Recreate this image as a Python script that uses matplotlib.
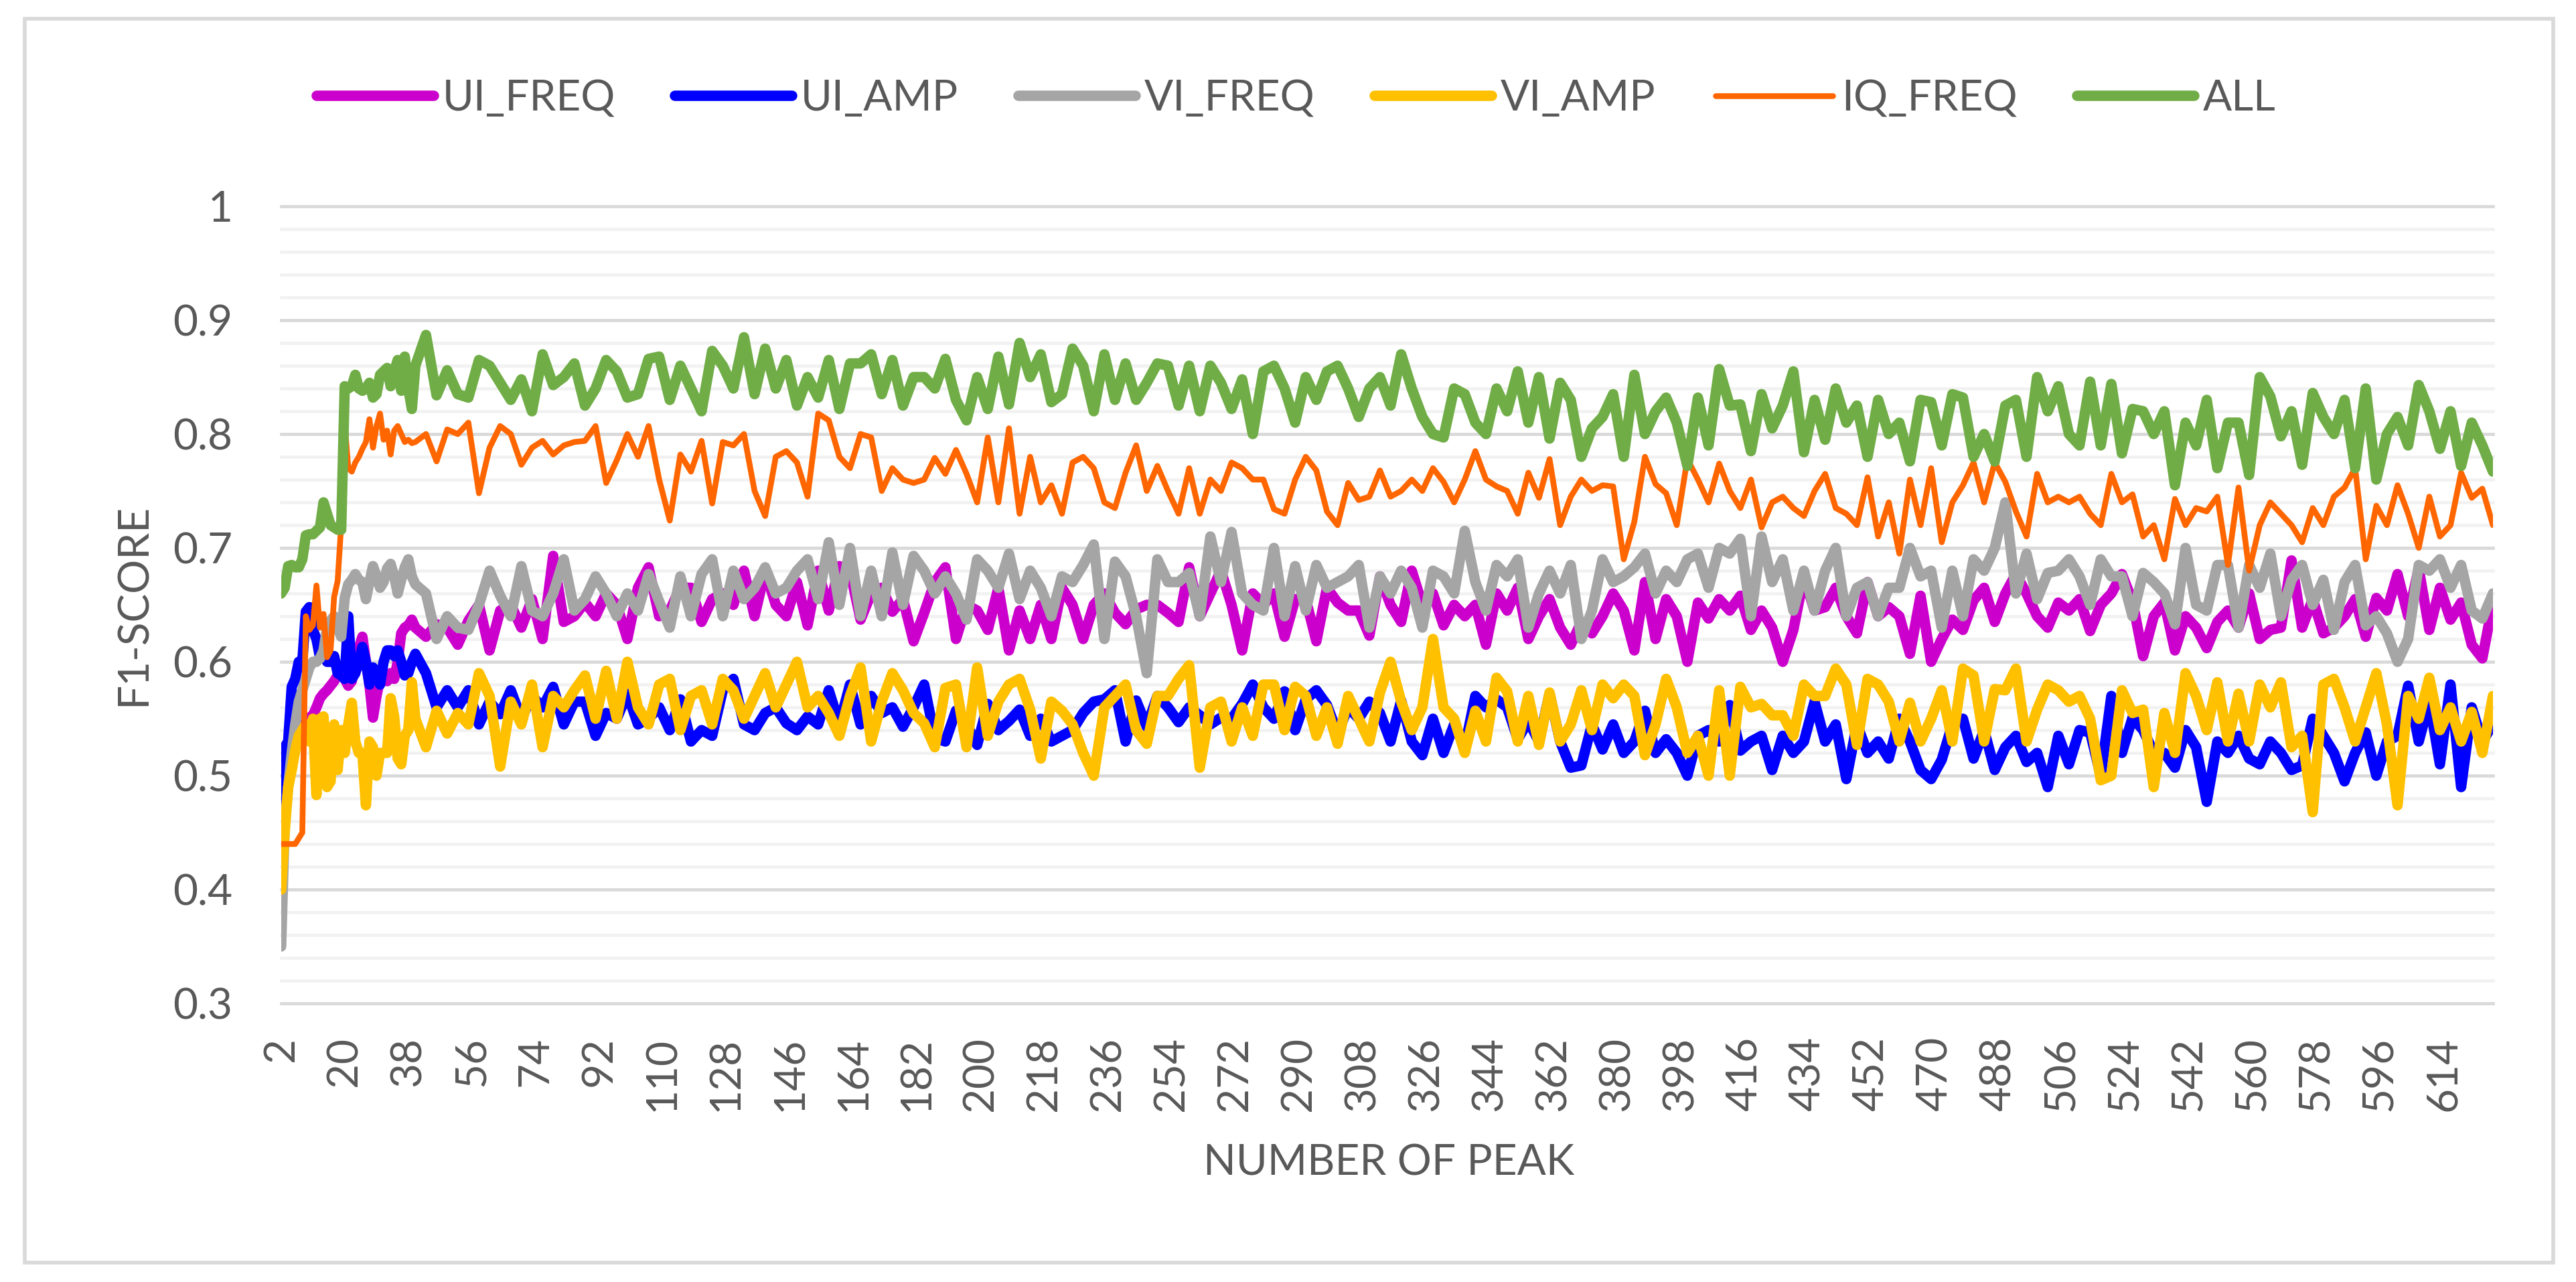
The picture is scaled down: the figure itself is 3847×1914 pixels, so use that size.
import numpy as np
import matplotlib
matplotlib.use("Agg")
import matplotlib.pyplot as plt
from matplotlib.patches import Rectangle

plt.rcParams['font.family'] = ['Lato', 'DejaVu Sans']

# categories: every peak up to 40, then every third one
peaks = list(range(2, 41)) + list(range(43, 629, 3))

ui_freq = [0.477, 0.485, 0.50, 0.51, 0.525, 0.54, 0.545, 0.548, 0.551, 0.553,
           0.56, 0.568, 0.572, 0.575, 0.579, 0.583, 0.588, 0.59, 0.585, 0.579,
           0.583, 0.60, 0.612, 0.622, 0.60, 0.58, 0.551, 0.57, 0.585, 0.59,
           0.583, 0.59, 0.585, 0.60, 0.625, 0.63, 0.632, 0.637, 0.63,
           0.622, 0.633, 0.63, 0.615, 0.636, 0.65, 0.61, 0.645, 0.65, 0.63,
           0.655, 0.62, 0.693, 0.635, 0.64, 0.652, 0.64, 0.66, 0.65, 0.62,
           0.665, 0.683, 0.64, 0.645, 0.665, 0.665, 0.635, 0.655, 0.66,
           0.65, 0.68, 0.64, 0.68, 0.65, 0.64, 0.67, 0.632, 0.68, 0.645,
           0.684, 0.68, 0.637, 0.66, 0.665, 0.644, 0.655, 0.618, 0.643, 0.67,
           0.683, 0.62, 0.65, 0.645, 0.628, 0.665, 0.61, 0.645, 0.62, 0.65,
           0.62, 0.665, 0.65, 0.62, 0.65, 0.66, 0.643, 0.633, 0.646, 0.65,
           0.65,
           0.643, 0.635, 0.683, 0.64, 0.66, 0.68, 0.65, 0.61, 0.66, 0.65,
           0.66, 0.622, 0.655, 0.655, 0.618, 0.665, 0.652, 0.645, 0.645, 0.623,
           0.675, 0.65, 0.635, 0.68, 0.65, 0.66, 0.632, 0.65, 0.64, 0.65,
           0.615, 0.66, 0.645, 0.665, 0.62, 0.64, 0.655, 0.63, 0.615, 0.635,
           0.625, 0.64,
           0.66, 0.645, 0.61, 0.67, 0.62, 0.655, 0.64, 0.60, 0.652, 0.638,
           0.655, 0.645, 0.658, 0.628, 0.645, 0.63, 0.60, 0.628, 0.675, 0.645,
           0.648, 0.665, 0.64, 0.625, 0.67, 0.64, 0.648, 0.64, 0.607, 0.658,
           0.60, 0.62, 0.637, 0.628, 0.654, 0.665, 0.635, 0.66, 0.677, 0.66,
           0.64, 0.63,
           0.652, 0.645, 0.655, 0.627, 0.65, 0.66, 0.677, 0.653, 0.605, 0.64,
           0.652, 0.61, 0.64, 0.63, 0.612, 0.635, 0.645, 0.63, 0.66, 0.62,
           0.628, 0.63, 0.689, 0.63, 0.655, 0.625, 0.63, 0.64, 0.655, 0.622,
           0.656, 0.645, 0.677, 0.64, 0.682, 0.628, 0.665, 0.637, 0.652, 0.615,
           0.603, 0.652]

ui_amp = [0.48, 0.525, 0.53, 0.578, 0.585, 0.60, 0.60, 0.644, 0.648, 0.628,
          0.62, 0.604, 0.61, 0.60, 0.60, 0.605, 0.59, 0.588, 0.585, 0.64,
          0.585, 0.59, 0.60, 0.613, 0.60, 0.58, 0.595, 0.59, 0.58, 0.60,
          0.61, 0.61, 0.605, 0.61, 0.60, 0.588, 0.59, 0.60, 0.607,
          0.59, 0.56, 0.575, 0.56, 0.575, 0.545, 0.565, 0.554, 0.575, 0.55,
          0.57, 0.56, 0.578, 0.545, 0.565, 0.565, 0.535, 0.555, 0.55, 0.572,
          0.545, 0.55, 0.56, 0.54, 0.567, 0.53, 0.54, 0.535, 0.575,
          0.585, 0.545, 0.54, 0.555, 0.56, 0.546, 0.54, 0.552, 0.545, 0.575,
          0.545, 0.58, 0.545, 0.57, 0.555, 0.56, 0.543, 0.56, 0.58, 0.533,
          0.53, 0.557, 0.545, 0.527, 0.563, 0.54, 0.548, 0.558, 0.535, 0.55,
          0.53, 0.535, 0.54, 0.555, 0.565, 0.567, 0.575, 0.53, 0.566, 0.543,
          0.57,
          0.56, 0.547, 0.56, 0.553, 0.545, 0.551, 0.55, 0.563, 0.58, 0.56,
          0.55, 0.574, 0.54, 0.567, 0.575, 0.562, 0.537, 0.56, 0.55, 0.565,
          0.555, 0.53, 0.566, 0.53, 0.518, 0.55, 0.52, 0.545, 0.525, 0.57,
          0.56, 0.567, 0.56, 0.532, 0.548, 0.53, 0.572, 0.53, 0.507, 0.509,
          0.545, 0.523,
          0.545, 0.52, 0.53, 0.557, 0.52, 0.532, 0.52, 0.50, 0.535, 0.54,
          0.53, 0.562, 0.522, 0.53, 0.535, 0.505, 0.535, 0.52, 0.53, 0.565,
          0.53, 0.545, 0.497, 0.545, 0.52, 0.53, 0.515, 0.55, 0.53, 0.505,
          0.497, 0.514, 0.545, 0.55, 0.515, 0.54, 0.505, 0.525, 0.535, 0.512,
          0.52, 0.49,
          0.535, 0.51, 0.54, 0.538, 0.50, 0.57, 0.52, 0.551, 0.54, 0.52,
          0.52, 0.507, 0.54, 0.525, 0.477, 0.53, 0.52, 0.535, 0.515, 0.51,
          0.53, 0.52, 0.505, 0.509, 0.55, 0.535, 0.52, 0.495, 0.52, 0.538,
          0.50, 0.53, 0.535, 0.579, 0.53, 0.565, 0.51, 0.58, 0.49, 0.56,
          0.53, 0.545]

vi_freq = [0.35, 0.455, 0.49, 0.52, 0.545, 0.565, 0.575, 0.585, 0.595, 0.60,
           0.60, 0.603, 0.61, 0.63, 0.636, 0.64, 0.63, 0.622, 0.656, 0.668,
           0.672, 0.677, 0.672, 0.67, 0.655, 0.67, 0.684, 0.675, 0.665, 0.67,
           0.682, 0.686, 0.675, 0.66, 0.672, 0.683, 0.69, 0.675, 0.668,
           0.66, 0.62, 0.64, 0.63, 0.628, 0.65, 0.68, 0.658, 0.64, 0.684,
           0.645, 0.64, 0.66, 0.69, 0.645, 0.655, 0.675, 0.66, 0.64, 0.66,
           0.645, 0.677, 0.653, 0.63, 0.675, 0.64, 0.677, 0.69, 0.64,
           0.68, 0.655, 0.665, 0.683, 0.66, 0.665, 0.68, 0.69, 0.655, 0.705,
           0.65, 0.70, 0.64, 0.68, 0.64, 0.696, 0.65, 0.693, 0.68, 0.66,
           0.675, 0.66, 0.637, 0.69, 0.68, 0.665, 0.695, 0.655, 0.68, 0.665,
           0.64, 0.675, 0.67, 0.685, 0.703, 0.62, 0.688, 0.675, 0.64, 0.59,
           0.69,
           0.67, 0.67, 0.678, 0.64, 0.71, 0.67, 0.714, 0.66, 0.65, 0.645,
           0.70, 0.64, 0.684, 0.645, 0.685, 0.665, 0.67, 0.675, 0.685, 0.63,
           0.675, 0.66, 0.68, 0.665, 0.63, 0.68, 0.675, 0.66, 0.715, 0.67,
           0.645, 0.685, 0.675, 0.69, 0.63, 0.66, 0.68, 0.66, 0.685, 0.62,
           0.645, 0.69,
           0.67, 0.675, 0.683, 0.695, 0.66, 0.68, 0.67, 0.69, 0.695, 0.665,
           0.70, 0.695, 0.708, 0.64, 0.71, 0.67, 0.69, 0.645, 0.68, 0.645,
           0.68, 0.70, 0.64, 0.665, 0.67, 0.64, 0.665, 0.665, 0.70, 0.675,
           0.68, 0.63, 0.68, 0.64, 0.69, 0.68, 0.70, 0.74, 0.66, 0.695,
           0.655, 0.678,
           0.68, 0.69, 0.675, 0.65, 0.69, 0.675, 0.675, 0.64, 0.678, 0.67,
           0.66, 0.633, 0.70, 0.65, 0.645, 0.685, 0.685, 0.63, 0.685, 0.665,
           0.695, 0.64, 0.672, 0.685, 0.65, 0.672, 0.628, 0.67, 0.685, 0.632,
           0.64, 0.625, 0.60, 0.62, 0.685, 0.68, 0.69, 0.665, 0.685, 0.645,
           0.638, 0.66]

vi_amp = [0.40, 0.45, 0.49, 0.505, 0.522, 0.535, 0.54, 0.545, 0.53, 0.55,
          0.483, 0.55, 0.552, 0.49, 0.495, 0.545, 0.505, 0.54, 0.52, 0.545,
          0.564, 0.53, 0.52, 0.52, 0.474, 0.53, 0.525, 0.50, 0.52, 0.52,
          0.52, 0.568, 0.552, 0.515, 0.51, 0.535, 0.54, 0.582, 0.55,
          0.525, 0.557, 0.537, 0.555, 0.545, 0.59, 0.57, 0.508, 0.565, 0.545,
          0.58, 0.525, 0.57, 0.56, 0.575, 0.588, 0.55, 0.592, 0.55, 0.60,
          0.56, 0.545, 0.58, 0.585, 0.54, 0.57, 0.575, 0.545, 0.585,
          0.575, 0.55, 0.57, 0.59, 0.56, 0.58, 0.60, 0.56, 0.57, 0.555,
          0.535, 0.57, 0.595, 0.53, 0.565, 0.59, 0.575, 0.555, 0.546, 0.525,
          0.577, 0.58, 0.525, 0.595, 0.535, 0.565, 0.58, 0.585, 0.558, 0.515,
          0.565, 0.557, 0.545, 0.52, 0.50, 0.56, 0.57, 0.58, 0.54, 0.528,
          0.57,
          0.57, 0.585, 0.597, 0.507, 0.56, 0.565, 0.53, 0.56, 0.535, 0.58,
          0.58, 0.54, 0.578, 0.57, 0.535, 0.56, 0.528, 0.57, 0.55, 0.53,
          0.573, 0.60, 0.565, 0.54, 0.56, 0.62, 0.56, 0.55, 0.52, 0.557,
          0.53, 0.586, 0.574, 0.53, 0.57, 0.527, 0.573, 0.53, 0.545, 0.575,
          0.54, 0.58,
          0.568, 0.58, 0.57, 0.518, 0.545, 0.585, 0.56, 0.52, 0.535, 0.50,
          0.575, 0.50, 0.578, 0.56, 0.563, 0.553, 0.553, 0.535, 0.58, 0.57,
          0.57, 0.594, 0.58, 0.527, 0.585, 0.58, 0.565, 0.53, 0.564, 0.53,
          0.55, 0.575, 0.53, 0.594, 0.588, 0.53, 0.576, 0.575, 0.594, 0.53,
          0.558, 0.58,
          0.575, 0.565, 0.57, 0.55, 0.496, 0.50, 0.575, 0.555, 0.558, 0.49,
          0.555, 0.52, 0.59, 0.57, 0.54, 0.582, 0.53, 0.572, 0.53, 0.58,
          0.56, 0.582, 0.525, 0.535, 0.468, 0.58, 0.585, 0.56, 0.53, 0.56,
          0.59, 0.545, 0.474, 0.57, 0.55, 0.586, 0.54, 0.56, 0.53, 0.556,
          0.52, 0.57]

iq_freq = [0.44, 0.44, 0.44, 0.44, 0.44, 0.445, 0.45, 0.64, 0.628, 0.632,
           0.667, 0.63, 0.642, 0.604, 0.61, 0.657, 0.671, 0.72, 0.81,
           0.77, 0.767, 0.775, 0.78, 0.787, 0.793, 0.813, 0.788, 0.807, 0.818,
           0.795, 0.803, 0.782, 0.803, 0.807, 0.80, 0.793, 0.795, 0.792, 0.793,
           0.80, 0.776, 0.804, 0.80, 0.81, 0.748, 0.788, 0.807, 0.80, 0.773,
           0.788, 0.794, 0.782, 0.79, 0.793, 0.794, 0.807, 0.757, 0.777, 0.80,
           0.78, 0.807, 0.76, 0.724, 0.782, 0.767, 0.794, 0.739, 0.793,
           0.79, 0.80, 0.75, 0.728, 0.78, 0.785, 0.775, 0.745, 0.818, 0.812,
           0.78, 0.77, 0.80, 0.797, 0.75, 0.77, 0.76, 0.757, 0.76, 0.779,
           0.765, 0.786, 0.765, 0.74, 0.797, 0.74, 0.805, 0.73, 0.78, 0.74,
           0.755, 0.73, 0.775, 0.78, 0.77, 0.74, 0.735, 0.766, 0.79, 0.75,
           0.772,
           0.75, 0.73, 0.77, 0.73, 0.76, 0.75, 0.775, 0.77, 0.76, 0.76,
           0.734, 0.73, 0.76, 0.78, 0.768, 0.732, 0.72, 0.757, 0.742, 0.745,
           0.768, 0.745, 0.75, 0.76, 0.75, 0.77, 0.758, 0.74, 0.76, 0.785,
           0.76, 0.754, 0.75, 0.73, 0.766, 0.744, 0.778, 0.72, 0.745, 0.76,
           0.75, 0.755,
           0.754, 0.69, 0.723, 0.78, 0.756, 0.748, 0.72, 0.778, 0.76, 0.74,
           0.774, 0.75, 0.735, 0.76, 0.718, 0.74, 0.745, 0.735, 0.728, 0.75,
           0.765, 0.735, 0.73, 0.72, 0.762, 0.71, 0.74, 0.695, 0.76, 0.72,
           0.77, 0.705, 0.74, 0.755, 0.775, 0.74, 0.775, 0.758, 0.732, 0.71,
           0.765, 0.74,
           0.745, 0.74, 0.745, 0.73, 0.72, 0.765, 0.74, 0.747, 0.71, 0.72,
           0.69, 0.743, 0.72, 0.735, 0.732, 0.745, 0.685, 0.753, 0.68, 0.72,
           0.74, 0.73, 0.72, 0.705, 0.735, 0.72, 0.745, 0.753, 0.77, 0.69,
           0.737, 0.72, 0.755, 0.73, 0.70, 0.745, 0.71, 0.72, 0.766, 0.744,
           0.752, 0.72]

all_feat = [0.66, 0.665, 0.684, 0.685, 0.683, 0.683, 0.69, 0.711, 0.712, 0.712,
            0.715, 0.718, 0.74, 0.73, 0.72, 0.718, 0.716, 0.716, 0.842,
            0.84, 0.842, 0.852, 0.84, 0.838, 0.84, 0.845, 0.832, 0.835, 0.852,
            0.855, 0.858, 0.842, 0.855, 0.865, 0.838, 0.868, 0.84, 0.822, 0.86,
            0.887, 0.834, 0.856, 0.835, 0.832, 0.865, 0.86, 0.845, 0.83, 0.848,
            0.82, 0.87, 0.843, 0.85, 0.862, 0.825, 0.84, 0.865, 0.855, 0.832,
            0.835, 0.866, 0.868, 0.83, 0.86, 0.84, 0.82, 0.873, 0.86,
            0.84, 0.885, 0.835, 0.875, 0.84, 0.865, 0.825, 0.85, 0.832, 0.865,
            0.822, 0.862, 0.862, 0.87, 0.835, 0.865, 0.825, 0.85, 0.85, 0.84,
            0.866, 0.83, 0.812, 0.85, 0.822, 0.868, 0.826, 0.88, 0.85, 0.87,
            0.828, 0.835, 0.875, 0.86, 0.82, 0.87, 0.83, 0.862, 0.83, 0.845,
            0.862,
            0.86, 0.825, 0.86, 0.82, 0.86, 0.845, 0.822, 0.848, 0.80, 0.855,
            0.86, 0.84, 0.81, 0.85, 0.83, 0.855, 0.86, 0.84, 0.815, 0.84,
            0.85, 0.825, 0.87, 0.84, 0.815, 0.80, 0.797, 0.84, 0.835, 0.81,
            0.80, 0.84, 0.82, 0.855, 0.81, 0.85, 0.796, 0.845, 0.83, 0.78,
            0.805, 0.815,
            0.835, 0.78, 0.852, 0.80, 0.82, 0.832, 0.81, 0.772, 0.832, 0.79,
            0.857, 0.825, 0.826, 0.785, 0.835, 0.805, 0.825, 0.855, 0.784, 0.83,
            0.795, 0.84, 0.81, 0.825, 0.78, 0.83, 0.80, 0.81, 0.776, 0.83,
            0.828, 0.79, 0.835, 0.832, 0.78, 0.80, 0.776, 0.825, 0.83, 0.78,
            0.85, 0.82,
            0.842, 0.80, 0.79, 0.846, 0.79, 0.844, 0.783, 0.822, 0.82, 0.80,
            0.82, 0.755, 0.81, 0.79, 0.83, 0.77, 0.81, 0.81, 0.764, 0.85,
            0.833, 0.798, 0.82, 0.773, 0.836, 0.815, 0.80, 0.83, 0.77, 0.84,
            0.76, 0.80, 0.815, 0.79, 0.843, 0.82, 0.787, 0.82, 0.772, 0.81,
            0.79, 0.767]

names = ['UI_FREQ', 'UI_AMP', 'VI_FREQ', 'VI_AMP', 'IQ_FREQ', 'ALL']
series = [ui_freq, ui_amp, vi_freq, vi_amp, iq_freq, all_feat]
colors = ['#CC00CC', '#0000FF', '#A5A5A5', '#FFC000', '#FF6600', '#70AD47']
widths = [5.6, 5.6, 5.6, 5.6, 3.1, 5.6]

text_col = '#595959'
fs = 23

fig = plt.figure(figsize=(19.24, 9.57), dpi=200)
ax = fig.add_axes([0.1091, 0.2173, 0.8584, 0.6218])

# gridlines (major every 0.1, minor every 0.02)
for k in range(30, 101, 2):
    if k % 10 == 0:
        ax.axhline(k / 100, color='#D9D9D9', lw=1.7, zorder=0, clip_on=False)
    else:
        ax.axhline(k / 100, color='#F2F2F2', lw=1.7, zorder=0, clip_on=False)

handles = []
for name, vals, c, w in zip(names, series, colors, widths):
    h, = ax.plot(peaks, vals, color=c, lw=w, label=name,
                 solid_joinstyle='round', solid_capstyle='round', zorder=2)
    handles.append(h)

ax.set_xlim(2, 628)
ax.set_ylim(0.3, 1.0)
for s in ax.spines.values():
    s.set_visible(False)

xt = list(range(2, 615, 18))
ax.set_xticks(xt)
ax.set_xticklabels([str(v) for v in xt], rotation=90)
yt = [0.3, 0.4, 0.5, 0.6, 0.7, 0.8, 0.9, 1.0]
ax.set_yticks(yt)
ax.set_yticklabels(['0.3', '0.4', '0.5', '0.6', '0.7', '0.8', '0.9', '1'])
ax.tick_params(axis='x', length=0, pad=18, labelsize=fs, labelcolor=text_col)
ax.tick_params(axis='y', length=0, pad=26, labelsize=fs, labelcolor=text_col)

fig.text(0.539, 0.0925, 'NUMBER OF PEAK', ha='center', va='center',
         fontsize=fs, color=text_col)
fig.text(0.052, 0.528, 'F1-SCORE', ha='center', va='center', rotation=90,
         fontsize=fs, color=text_col)

leg = fig.legend(handles, names, loc='center', bbox_to_anchor=(0.503, 0.923),
                 ncol=6, frameon=False, fontsize=fs, handlelength=2.74,
                 handletextpad=0.2, columnspacing=1.4)
for t in leg.get_texts():
    t.set_color(text_col)

fig.add_artist(Rectangle((37 / 3848, 1 - 1885 / 1914), (3813 - 37) / 3848,
                         (1885 - 28) / 1914, transform=fig.transFigure,
                         fill=False, ec='#D9D9D9', lw=2))

fig.savefig('out.png', dpi=200, facecolor='white')
